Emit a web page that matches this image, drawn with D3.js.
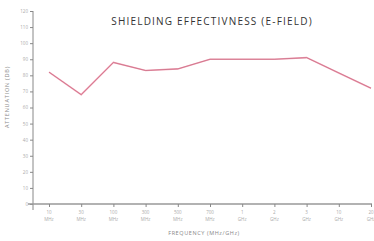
<!DOCTYPE html>
<html>
<head>
<meta charset="utf-8">
<script src="https://cdn.jsdelivr.net/npm/d3@7"></script>
<style>
  body { margin: 0; background: #fff; }
  text { font-family: "Open Sans", sans-serif; }
</style>
</head>
<body>
<div id="chart"></div>
<script>
// frequency categories (value + unit shown on two lines)
const freqs = ["10", "30", "100", "300", "500", "700", "1", "2", "3", "10", "20"];
const units = ["MHz", "MHz", "MHz", "MHz", "MHz", "MHz", "GHz", "GHz", "GHz", "GHz", "GHz"];
const attenuation = [82, 68, 88, 83, 84, 90, 90, 90, 91, 81.5, 72];
const yTicks = [0, 10, 20, 30, 40, 50, 60, 70, 80, 90, 100, 110, 120];

const width = 374, height = 241;

const svg = d3.select("#chart").append("svg")
    .attr("width", width)
    .attr("height", height);

const keys = freqs.map((f, i) => i);

const x = d3.scalePoint()
    .domain(keys)
    .range([49, 371]);

const y = d3.scaleLinear()
    .domain([0, 120])
    .range([204, 11]);

// y axis
const yAxis = svg.append("g")
    .attr("transform", "translate(33,0)")
    .call(d3.axisLeft(y).tickValues(yTicks).tickSize(3).tickPadding(2));
yAxis.select(".domain").attr("d", "M0," + y(120) + "V210");
yAxis.selectAll("line").attr("stroke", "#888");
yAxis.select(".domain").attr("stroke", "#888");
yAxis.selectAll("text").attr("fill", "#aaa").style("font-size", "4.5px");

// x axis
const xAxis = svg.append("g")
    .attr("transform", "translate(0," + y(0) + ")")
    .call(d3.axisBottom(x).tickSize(3).tickFormat(""));
xAxis.select(".domain").attr("d", "M28,0H372").attr("stroke", "#999").attr("stroke-width", 1.5);
xAxis.selectAll("line").attr("stroke", "#888");

const lbl = svg.append("g").selectAll("text")
    .data(keys)
    .join("text")
    .attr("x", d => x(d))
    .attr("y", 214)
    .attr("text-anchor", "middle")
    .attr("fill", "#aaa")
    .style("font-size", "4.5px");
lbl.append("tspan").attr("x", d => x(d)).text(d => freqs[d]);
lbl.append("tspan").attr("x", d => x(d)).attr("dy", 6.5).text(d => units[d]);

// line
const line = d3.line()
    .x((d, i) => x(i))
    .y(d => y(d));

svg.append("path")
    .datum(attenuation)
    .attr("fill", "none")
    .attr("stroke", "#f3a3b6")
    .attr("stroke-width", 1.6)
    .attr("d", line);
svg.append("path")
    .datum(attenuation)
    .attr("fill", "none")
    .attr("stroke", "#b0506a")
    .attr("stroke-width", 0.5)
    .attr("d", line);

// titles
svg.append("text")
    .attr("x", 212)
    .attr("y", 25)
    .attr("text-anchor", "middle")
    .attr("fill", "#333")
    .style("font-size", "10px")
    .style("letter-spacing", "1.2px")
    .text("SHIELDING EFFECTIVNESS (E-FIELD)");

svg.append("text")
    .attr("x", 204)
    .attr("y", 235)
    .attr("text-anchor", "middle")
    .attr("fill", "#888")
    .style("font-size", "5.5px")
    .style("letter-spacing", "0.6px")
    .text("FREQUENCY (MHz/GHz)");

svg.append("text")
    .attr("transform", "translate(9,97) rotate(-90)")
    .attr("text-anchor", "middle")
    .attr("fill", "#888")
    .style("font-size", "5.5px")
    .style("letter-spacing", "0.8px")
    .text("ATTENUATION (DB)");
</script>
</body>
</html>
